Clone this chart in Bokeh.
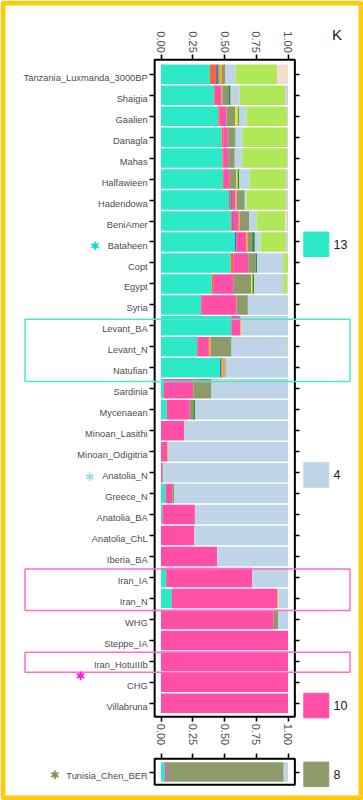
import math
from bokeh.plotting import figure
from bokeh.models import (Range1d, LinearAxis, FixedTicker, NumeralTickFormatter,
                          ColumnDataSource)
from bokeh.core.properties import value
from bokeh.embed import file_html
from bokeh.resources import INLINE

# ---------------- data ----------------
populations = ["Tanzania_Luxmanda_3000BP", "Shaigia", "Gaalien", "Danagla", "Mahas",
               "Halfawieen", "Hadendowa", "BeniAmer", "Bataheen", "Copt", "Egypt", "Syria",
               "Levant_BA", "Levant_N", "Natufian", "Sardinia", "Mycenaean", "Minoan_Lasithi",
               "Minoan_Odigitria", "Anatolia_N", "Greece_N", "Anatolia_BA", "Anatolia_ChL",
               "Iberia_BA", "Iran_IA", "Iran_N", "WHG", "Steppe_IA", "Iran_HotuIIIb", "CHG",
               "Villabruna"]

c_teal     = [.385, .416, .45, .476, .483, .488, .535, .549, .58, .549, .399, .316, .553, .285, .465, .023, .045, 0, 0, 0, .035, .01, 0, 0, .041, .085, 0, 0, 0, 0, 0]
c_orangered= [.049, .008, .01, .014, .006, .007, .012, .008, 0, .024, .017, 0, 0, 0, 0, 0, 0, 0, 0, 0, 0, 0, 0, 0, 0, 0, 0, 0, 0, 0, 0]
c_blue     = [.021, 0, 0, 0, 0, 0, .011, .009, .012, 0, 0, 0, 0, 0, .013, 0, 0, 0, 0, 0, 0, 0, 0, 0, 0, 0, 0, 0, 0, 0, 0]
c_pink     = [0, .053, .056, .036, .04, .047, .029, .047, .078, .113, .157, .278, .073, .092, 0, .231, .182, .185, .05, .01, .053, .257, .261, .443, .677, .832, .888, 1, 1, 1, 1]
c_orange   = [.025, .005, 0, 0, 0, 0, .008, .007, .01, 0, 0, 0, .007, .013, .022, 0, 0, 0, .005, 0, 0, 0, 0, 0, 0, .008, 0, 0, 0, 0, 0]
c_olive    = [.028, .048, .071, .053, .052, .052, .053, .074, .038, .058, .137, .09, 0, .157, .01, .144, .027, 0, 0, .007, .018, 0, 0, 0, 0, 0, .034, 0, 0, 0, 0]
c_yellow   = [0, 0, .018, 0, 0, .01, 0, 0, 0, 0, .01, 0, 0, 0, 0, 0, 0, 0, 0, 0, 0, 0, 0, 0, 0, 0, 0, 0, 0, 0, 0]
c_dkgreen  = [0, .018, .008, .008, 0, .013, .01, 0, .021, .013, .014, 0, 0, .008, 0, 0, .015, 0, 0, 0, 0, 0, 0, 0, 0, 0, 0, 0, 0, 0, 0]
c_ltblue   = [.079, .072, .06, .053, .059, .083, .015, .058, .044, .205, .228, .316, .367, .44, .49, .602, .731, .815, .945, .983, .894, .733, .739, .557, .282, .075, .078, 0, 0, 0, 0]
c_lime     = [.328, .36, .32, .353, .353, .288, .315, .228, .205, .038, .033, 0, 0, .005, 0, 0, 0, 0, 0, 0, 0, 0, 0, 0, 0, 0, 0, 0, 0, 0, 0]
c_peach    = [.085, 0, 0, 0, 0, 0, 0, .01, 0, 0, 0, 0, 0, 0, 0, 0, 0, 0, 0, 0, 0, 0, 0, 0, 0, 0, 0, 0, 0, 0, 0]
c_lavender = [0, .02, .007, .007, .007, .012, .012, .01, .012, 0, .005, 0, 0, 0, 0, 0, 0, 0, 0, 0, 0, 0, 0, 0, 0, 0, 0, 0, 0, 0, 0]

extra_pop = ["Tunisia_Chen_BER"]
e_teal = [.031]
e_pink = [.016]
e_olive = [.919]
e_ltblue = [.034]

x_ticks = [0, 0.25, 0.5, 0.75, 1.0]

comp_names = ["teal", "orangered", "blue", "pink", "orange", "olive", "yellow",
              "dkgreen", "ltblue", "lime", "peach", "lavender"]
comp_colors = ["#2CE9C8", "#FA6440", "#3A78B8", "#FF4FA6", "#F7A823", "#8F9A6B", "#EEEC1A",
               "#2E8B3A", "#BDD5E6", "#B1E858", "#F4DCD0", "#D9C6F2"]

legend_k = ["13", "4", "10", "8"]
legend_rows = ["Bataheen", "Anatolia_N", "Villabruna", "Tunisia_Chen_BER"]
legend_colors = ["#2CE9C8", "#BDD5E6", "#FF4FA6", "#8F9A6B"]

highlights = [("Levant_BA", "Natufian", "#4FE6D0", 0.32, 0.65),
              ("Iran_IA", "Iran_N", "#FF6EC7", 0.41, 0.57),
              ("Iran_HotuIIIb", "Iran_HotuIIIb", "#FF6EC7", 0.44, 0.52)]

# ---------------- geometry ----------------
W, H = 363, 800
SX = 127.0          # px per unit of ancestry proportion
SY = 20.968         # px per population row
X_ZERO_PX = 160.5   # canvas x of proportion 0
Y_FIRST_PX = 73.75  # canvas y of the first row centre

FONT = "Liberation Sans"
GREY = "#4D4D4D"
YELLOW = "#FFCB0C"
BAR_H = 0.93


def dx(px):  # canvas px -> data x
    return (px - X_ZERO_PX) / SX


def dy(py):  # canvas px -> data y
    return (Y_FIRST_PX - py) / SY


x0, x1 = dx(0), dx(W)
y0, y1 = dy(H), dy(0)

row_y = [-float(i) for i in range(len(populations))]
tun_y = row_y[-1] - 3.28
ypos = dict(zip(populations, row_y))
ypos[extra_pop[0]] = tun_y

BOX_L, BOX_R = -0.05, 1.054

p = figure(width=W, height=H, x_range=Range1d(x0, x1), y_range=Range1d(y0, y1),
           x_axis_type=None, y_axis_type=None, output_backend="svg", toolbar_location=None,
           min_border_left=0, min_border_right=0, min_border_top=0, min_border_bottom=0)
p.outline_line_color = None
p.grid.visible = False
p.background_fill_color = "white"
p.border_fill_color = "white"

# bars
src = ColumnDataSource(dict(y=row_y, teal=c_teal, orangered=c_orangered, blue=c_blue,
                            pink=c_pink, orange=c_orange, olive=c_olive, yellow=c_yellow,
                            dkgreen=c_dkgreen, ltblue=c_ltblue, lime=c_lime, peach=c_peach,
                            lavender=c_lavender))
p.hbar_stack(comp_names, y="y", height=BAR_H, fill_color=comp_colors, line_color=None, source=src)

src2 = ColumnDataSource(dict(y=[tun_y], teal=e_teal, pink=e_pink, olive=e_olive, ltblue=e_ltblue))
p.hbar_stack(["teal", "pink", "olive", "ltblue"], y="y", height=BAR_H,
             fill_color=[comp_colors[0], comp_colors[3], comp_colors[5], comp_colors[8]],
             line_color=None, source=src2)

# panel boxes
main_top, main_bot = row_y[0] + 0.69, row_y[-1] - 0.64
tun_top, tun_bot = tun_y + 0.63, tun_y - 0.60
p.quad(left=[BOX_L, BOX_L], right=[BOX_R, BOX_R], top=[main_top, tun_top],
       bottom=[main_bot, tun_bot], fill_color=None, line_color="black", line_width=2)

# highlight boxes
for first, last, col, pt, pb in highlights:
    p.quad(left=dx(24.5), right=dx(349.5), top=ypos[first] + pt, bottom=ypos[last] - pb,
           fill_color=None, line_color=col, line_width=1.5)

# stars
star_x = [dx(94.3), dx(89.0), dx(80.0), dx(54.3)]
star_y = [ypos["Bataheen"] - 0.21, ypos["Anatolia_N"] - 0.21,
          ypos["Iran_HotuIIIb"] - 0.68, tun_y - 0.13]
star_c = ["#19D2D6", "#A6D8EC", "#FF10F0", "#8A8C55"]
p.text(x=star_x, y=star_y, text=["\u2731"] * 4, text_color=star_c,
       text_font=value("DejaVu Sans"), text_font_size="11.5px",
       text_align="center", text_baseline="middle")

# legend squares
leg_y = [ypos[r] - 0.11 for r in legend_rows]
p.quad(left=dx(303.3), right=dx(328.3), top=[v + 0.585 for v in leg_y],
       bottom=[v - 0.585 for v in leg_y], fill_color=legend_colors, line_color=legend_colors)
p.text(x=dx(333.0), y=leg_y, text=legend_k, text_color="#1A1A1A", text_font=value(FONT),
       text_font_size="12.5px", text_align="left", text_baseline="middle")
p.text(x=[dx(331.5)], y=[dy(33.5)], text=["K"], text_color="#1A1A1A", text_font=value(FONT),
       text_font_size="15px", text_align="left", text_baseline="middle")

# yellow page frame
p.quad(left=x0 + 2.5 / SX, right=x1 - 2.5 / SX, top=y1 - 2.5 / SY, bottom=y0 + 2.5 / SY,
       fill_color=None, line_color=YELLOW, line_width=5)


# ---------------- axes (fixed at the panel edges) ----------------
def style_axis(ax, show_labels, size="11px", ticks=True):
    ax.axis_line_color = None
    ax.major_tick_line_color = "black" if ticks else None
    ax.major_tick_line_width = 1.6
    ax.major_tick_out = 5
    ax.major_tick_in = 0
    ax.minor_tick_line_color = None
    ax.major_label_text_font = FONT
    if show_labels:
        ax.major_label_text_color = GREY
        ax.major_label_text_font_size = size
        ax.major_label_standoff = 2
    else:
        ax.major_label_text_color = None
        ax.major_label_text_font_size = "0px"
        ax.major_label_standoff = 0


fmt = NumeralTickFormatter(format="0.00")

top_ax = LinearAxis(ticker=FixedTicker(ticks=x_ticks), formatter=fmt, fixed_location=main_top)
top_ax.major_label_orientation = -math.pi / 2
style_axis(top_ax, True)
p.add_layout(top_ax, "above")

bot_ax = LinearAxis(ticker=FixedTicker(ticks=x_ticks), formatter=fmt, fixed_location=main_bot)
bot_ax.major_label_orientation = -math.pi / 2
style_axis(bot_ax, True)
p.add_layout(bot_ax, "below")

tun_ax = LinearAxis(ticker=FixedTicker(ticks=x_ticks), fixed_location=tun_top)
style_axis(tun_ax, False)
p.add_layout(tun_ax, "above")

all_y = row_y + [tun_y]
all_names = populations + extra_pop

left_ticks = LinearAxis(ticker=FixedTicker(ticks=all_y), fixed_location=BOX_L)
style_axis(left_ticks, False)
p.add_layout(left_ticks, "left")

LABEL_SHIFT = 0.17
lab_y = [v - LABEL_SHIFT for v in all_y]
left_labels = LinearAxis(ticker=FixedTicker(ticks=lab_y), fixed_location=BOX_L,
                         major_label_overrides={v: n for v, n in zip(lab_y, all_names)})
style_axis(left_labels, True, size="9.3px", ticks=False)
left_labels.major_label_standoff = 2
p.add_layout(left_labels, "left")

right_ticks = LinearAxis(ticker=FixedTicker(ticks=all_y), fixed_location=BOX_R)
style_axis(right_ticks, False)
p.add_layout(right_ticks, "right")

open("out.html", "w").write(file_html(p, INLINE))
